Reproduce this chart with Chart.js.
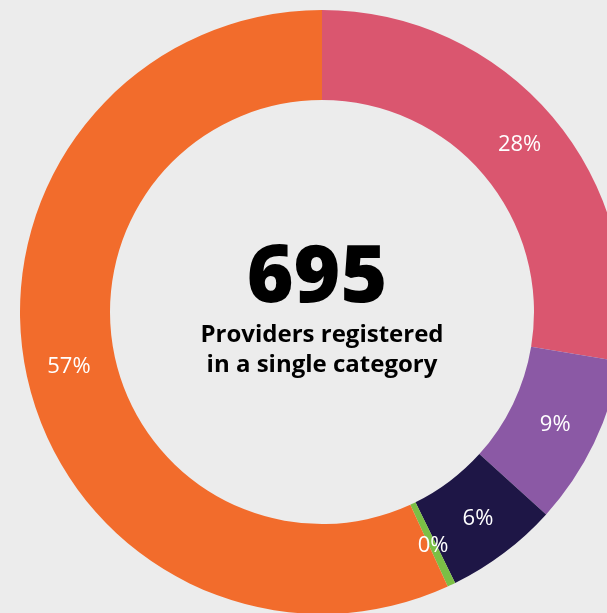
<!DOCTYPE html>
<html>
<head>
<meta charset="utf-8">
<title>Providers registered in a single category</title>
<script src="https://cdn.jsdelivr.net/npm/chart.js@4/dist/chart.umd.min.js"></script>
<style>
    html, body { margin: 0; padding: 0; overflow: hidden; background: #ececec; }
    body { width: 607px; height: 613px; position: relative; }
    .chart-box { position: absolute; left: 20px; top: 10px; width: 604px; height: 604px; }
</style>
</head>
<body>
<div class="chart-box">
    <canvas id="donut"></canvas>
</div>
<script>
// categories and provider counts (total 695)
const categories = ["Category A", "Category B", "Category C", "Category D", "Category E"];
const counts = [192, 63, 42, 3, 395];
const colors = ["#da566f", "#8b59a5", "#1e1646", "#7bbf45", "#f26c2c"];
const centerValue = "695";
const centerLines = ["Providers registered", "in a single category"];

const total = counts.reduce((a, b) => a + b, 0);

// white percent labels in the middle of each ring segment
const sliceLabels = {
    id: "sliceLabels",
    afterDatasetsDraw(chart) {
        const ctx = chart.ctx;
        const meta = chart.getDatasetMeta(0);
        ctx.save();
        ctx.fillStyle = "#ffffff";
        ctx.font = "22px 'Open Sans'";
        ctx.textAlign = "center";
        ctx.textBaseline = "middle";
        meta.data.forEach((arc, i) => {
            const mid = (arc.startAngle + arc.endAngle) / 2;
            const r = (arc.innerRadius + arc.outerRadius) / 2 + 2;
            const x = arc.x + Math.cos(mid) * r;
            const y = arc.y + Math.sin(mid) * r;
            ctx.fillText(Math.round(counts[i] / total * 100) + "%", x, y);
        });
        ctx.restore();
    }
};

// big number and caption in the hole
const centerText = {
    id: "centerText",
    afterDraw(chart) {
        const ctx = chart.ctx;
        const arc = chart.getDatasetMeta(0).data[0];
        const cx = arc.x, cy = arc.y;
        ctx.save();
        ctx.fillStyle = "#000000";
        ctx.textAlign = "center";
        ctx.textBaseline = "alphabetic";
        ctx.font = "800 80px 'Open Sans'";
        ctx.fillText(centerValue, cx - 5, cy - 10);
        ctx.font = "bold 24px 'Open Sans'";
        ctx.fillText(centerLines[0], cx, cy + 30);
        ctx.fillText(centerLines[1], cx, cy + 60);
        ctx.restore();
    }
};

new Chart(document.getElementById("donut"), {
    type: "doughnut",
    data: {
        labels: categories,
        datasets: [{
            data: counts,
            backgroundColor: colors,
            borderWidth: 0,
        }],
    },
    options: {
        responsive: true,
        maintainAspectRatio: false,
        animation: false,
        cutout: "70.2%",
        layout: { padding: 0 },
        plugins: {
            legend: { display: false },
            tooltip: { enabled: false },
        },
    },
    plugins: [sliceLabels, centerText],
});
</script>
</body>
</html>
